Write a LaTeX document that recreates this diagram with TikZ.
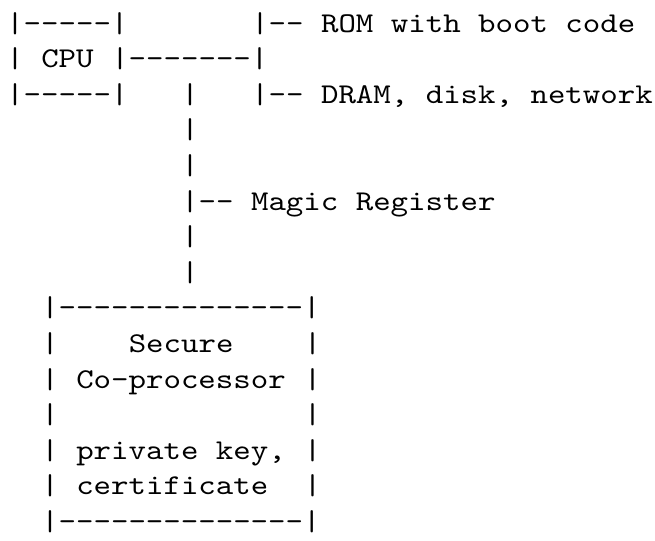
\documentclass[tikz,border=0pt]{standalone}
\usepackage{fontspec}
\setmonofont{lmmono10-regular.otf}[FakeStretch=1.16]
\tikzset{ascii/.style={anchor=base west, inner sep=0pt, outer sep=0pt,
  font=\ttfamily\fontsize{21.5pt}{27pt}\selectfont, text=black}}
\newcommand\asciiseg[4]{\node[ascii] (#1) at ({6.25+17.5*#2},{32+35.6*#3}) {#4};}
\begin{document}
\begin{tikzpicture}[x=0.75pt,y=-0.75pt]
\useasboundingbox (0,0) rectangle (655,540);
% CPU box and bus
\asciiseg{r0a}{0}{0}{|-----|}
\asciiseg{rom}{14}{0}{|-- ROM with boot code}
\asciiseg{r1a}{0}{1}{|}
\asciiseg{cpu}{2}{1}{CPU}
\asciiseg{r1b}{6}{1}{|-------|}
\asciiseg{r2a}{0}{2}{|-----|}
\asciiseg{r2b}{10}{2}{|}
\asciiseg{dram}{14}{2}{|-- DRAM, disk, network}
% vertical link
\asciiseg{r3}{10}{3}{|}
\asciiseg{r4}{10}{4}{|}
\asciiseg{magic}{10}{5}{|-- Magic Register}
\asciiseg{r6}{10}{6}{|}
\asciiseg{r7}{10}{7}{|}
% secure co-processor box
\asciiseg{r8}{2}{8}{|--------------|}
\asciiseg{r9a}{2}{9}{|}
\asciiseg{secure}{7}{9}{Secure}
\asciiseg{r9b}{17}{9}{|}
\asciiseg{r10a}{2}{10}{|}
\asciiseg{coproc}{4}{10}{Co-processor}
\asciiseg{r10b}{17}{10}{|}
\asciiseg{r11a}{2}{11}{|}
\asciiseg{r11b}{17}{11}{|}
\asciiseg{r12a}{2}{12}{|}
\asciiseg{pkey}{4}{12}{private key,}
\asciiseg{r12b}{17}{12}{|}
\asciiseg{r13a}{2}{13}{|}
\asciiseg{cert}{4}{13}{certificate}
\asciiseg{r13b}{17}{13}{|}
\asciiseg{r14}{2}{14}{|--------------|}
\end{tikzpicture}
\end{document}
